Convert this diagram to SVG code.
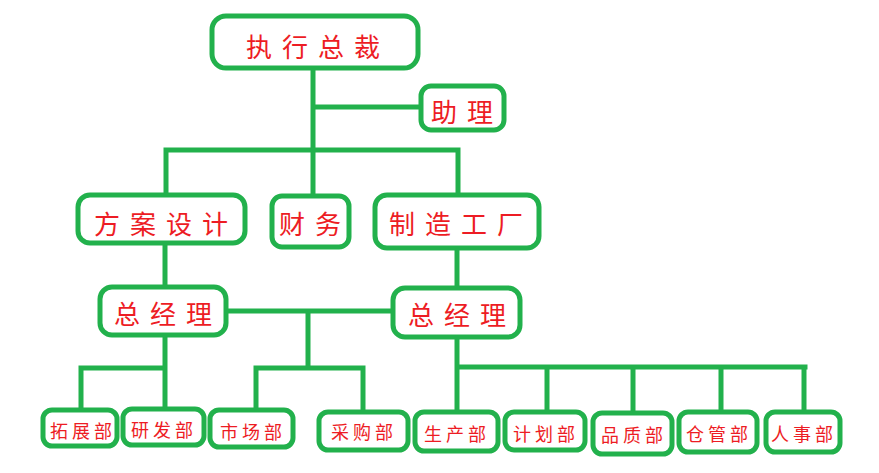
<svg xmlns="http://www.w3.org/2000/svg" width="879" height="473" viewBox="0 0 879 473">
<style>
.box{fill:#ffffff;stroke:#22b14c;stroke-width:5}
.ln{stroke:#22b14c;stroke-width:5;fill:none;stroke-linecap:square}
.t{fill:#ed1c24;font-family:"Noto Sans CJK SC","Noto Sans CJK TC",sans-serif;text-anchor:middle;dominant-baseline:central}
.big{font-size:26px;letter-spacing:10px}
.sm{font-size:18px;letter-spacing:4px}
</style>
<rect width="879" height="473" fill="#ffffff"/>
<g id="connectors">
<path class="ln" d="M313,68V196M313,107H421M166,150H458M166,150V195M458,150V195M165,243V287M457,248V288M226,311H393M308,311V368M256,368H363M256,368V410M363,368V412M165,335V409M81,368H165M81,368V410M457,337V412M457,367H805M547,367V412M633,367V413M721,367V412M804,367V412"/>
</g>
<g id="ceo"><rect class="box" x="212" y="16" width="206" height="52" rx="14"/><text class="t big" x="318" y="45">执行总裁</text></g>
<g id="assistant"><rect class="box" x="421" y="86" width="83" height="44" rx="10"/><text class="t big" x="467" y="110">助理</text></g>
<g id="design"><rect class="box" x="78" y="195" width="167" height="48" rx="12"/><text class="t big" x="166" y="222">方案设计</text></g>
<g id="finance"><rect class="box" x="272" y="196" width="77" height="51" rx="10"/><text class="t big" x="315" y="222">财务</text></g>
<g id="factory"><rect class="box" x="375" y="195" width="164" height="53" rx="12"/><text class="t big" x="461" y="222">制造工厂</text></g>
<g id="gm1"><rect class="box" x="100" y="287" width="126" height="48" rx="12"/><text class="t big" x="168" y="312">总经理</text></g>
<g id="gm2"><rect class="box" x="393" y="288" width="127" height="49" rx="12"/><text class="t big" x="462" y="313">总经理</text></g>
<g id="d1"><rect class="box" x="43" y="410" width="74" height="36" rx="9"/><text class="t sm" x="83" y="430">拓展部</text></g>
<g id="d2"><rect class="box" x="123" y="409" width="81" height="36" rx="9"/><text class="t sm" x="164" y="429">研发部</text></g>
<g id="d3"><rect class="box" x="210" y="410" width="83" height="37" rx="9"/><text class="t sm" x="253" y="431">市场部</text></g>
<g id="d4"><rect class="box" x="319" y="412" width="89" height="38" rx="9"/><text class="t sm" x="364" y="431">采购部</text></g>
<g id="d5"><rect class="box" x="415" y="412" width="83" height="39" rx="9"/><text class="t sm" x="457" y="433">生产部</text></g>
<g id="d6"><rect class="box" x="505" y="412" width="80" height="38" rx="9"/><text class="t sm" x="546" y="433">计划部</text></g>
<g id="d7"><rect class="box" x="593" y="413" width="79" height="41" rx="9"/><text class="t sm" x="634" y="434">品质部</text></g>
<g id="d8"><rect class="box" x="679" y="412" width="78" height="40" rx="9"/><text class="t sm" x="719" y="433">仓管部</text></g>
<g id="d9"><rect class="box" x="766" y="412" width="74" height="40" rx="9"/><text class="t sm" x="804" y="433">人事部</text></g>
</svg>
